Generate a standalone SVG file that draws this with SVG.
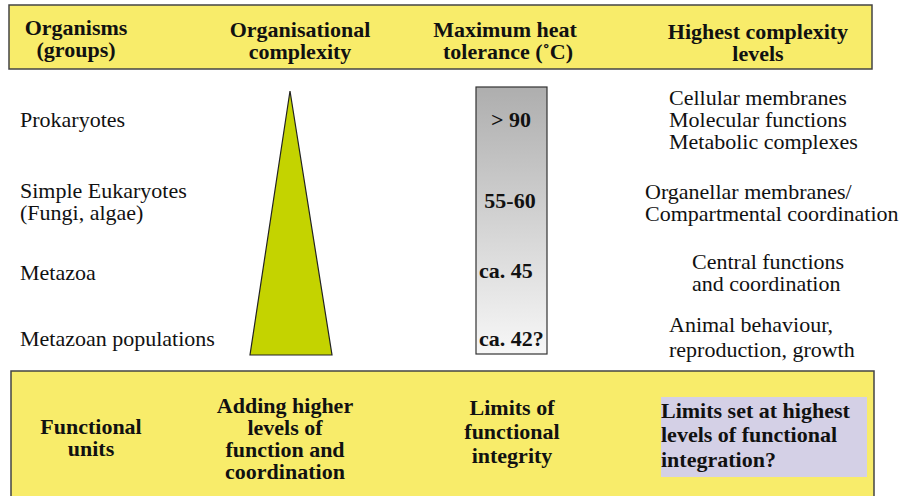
<svg xmlns="http://www.w3.org/2000/svg" width="899" height="496" viewBox="0 0 899 496">
<defs>
<linearGradient id="grey" x1="0" y1="0" x2="0" y2="1">
<stop offset="0" stop-color="#aeaeae"/>
<stop offset="1" stop-color="#f7f7f7"/>
</linearGradient>
<style>
.h{font-family:"Liberation Serif",serif;font-weight:bold;font-size:22px;fill:#111;text-anchor:middle}
.t{font-family:"Liberation Serif",serif;font-size:22px;fill:#111}
.bar{fill:#f8ec6a;stroke:#444;stroke-width:1.5}
</style>
</defs>
<rect width="899" height="496" fill="#fff"/>
<g id="header">
<rect class="bar" x="9" y="5" width="863" height="64"/>
<text class="h" x="76" y="35">Organisms</text>
<text class="h" x="76" y="57">(groups)</text>
<text class="h" x="300" y="37">Organisational</text>
<text class="h" x="300" y="59">complexity</text>
<text class="h" x="505" y="37">Maximum heat</text>
<text class="h" x="508" y="59">tolerance (˚C)</text>
<text class="h" x="758" y="39">Highest complexity</text>
<text class="h" x="758" y="61">levels</text>
</g>
<g id="organisms">
<text class="t" x="20" y="127">Prokaryotes</text>
<text class="t" x="20" y="198">Simple Eukaryotes</text>
<text class="t" x="20" y="220">(Fungi, algae)</text>
<text class="t" x="20" y="280">Metazoa</text>
<text class="t" x="20" y="346">Metazoan populations</text>
</g>
<g id="triangle">
<polygon points="290,91 332,355 250,355" fill="#c4d300" stroke="#222" stroke-width="1.2"/>
</g>
<g id="tolerance">
<rect x="476" y="87" width="71" height="267" fill="url(#grey)" stroke="#333" stroke-width="1.2"/>
<text class="h" x="511" y="127">&gt; 90</text>
<text class="h" x="510" y="208">55-60</text>
<text class="h" x="479" y="278" style="text-anchor:start">ca. 45</text>
<text class="h" x="479" y="346" style="text-anchor:start">ca. 42?</text>
</g>
<g id="levels">
<text class="t" x="669" y="105">Cellular membranes</text>
<text class="t" x="669" y="127">Molecular functions</text>
<text class="t" x="669" y="149">Metabolic complexes</text>
<text class="t" x="645" y="199">Organellar membranes/</text>
<text class="t" x="645" y="221">Compartmental coordination</text>
<text class="t" x="692" y="269">Central functions</text>
<text class="t" x="692" y="291">and coordination</text>
<text class="t" x="669" y="332">Animal behaviour,</text>
<text class="t" x="669" y="357">reproduction, growth</text>
</g>
<g id="footer">
<rect class="bar" x="11" y="371" width="863" height="140"/>
<text class="h" x="91" y="434">Functional</text>
<text class="h" x="91" y="456">units</text>
<text class="h" x="285" y="413">Adding higher</text>
<text class="h" x="285" y="435">levels of</text>
<text class="h" x="285" y="457">function and</text>
<text class="h" x="285" y="479">coordination</text>
<text class="h" x="512" y="415">Limits of</text>
<text class="h" x="512" y="439">functional</text>
<text class="h" x="512" y="463">integrity</text>
<rect x="661" y="397" width="206" height="80" fill="#d4d0e6"/>
<text class="h" x="661" y="418" style="text-anchor:start">Limits set at highest</text>
<text class="h" x="661" y="442" style="text-anchor:start">levels of functional</text>
<text class="h" x="661" y="467" style="text-anchor:start">integration?</text>
</g>
</svg>
